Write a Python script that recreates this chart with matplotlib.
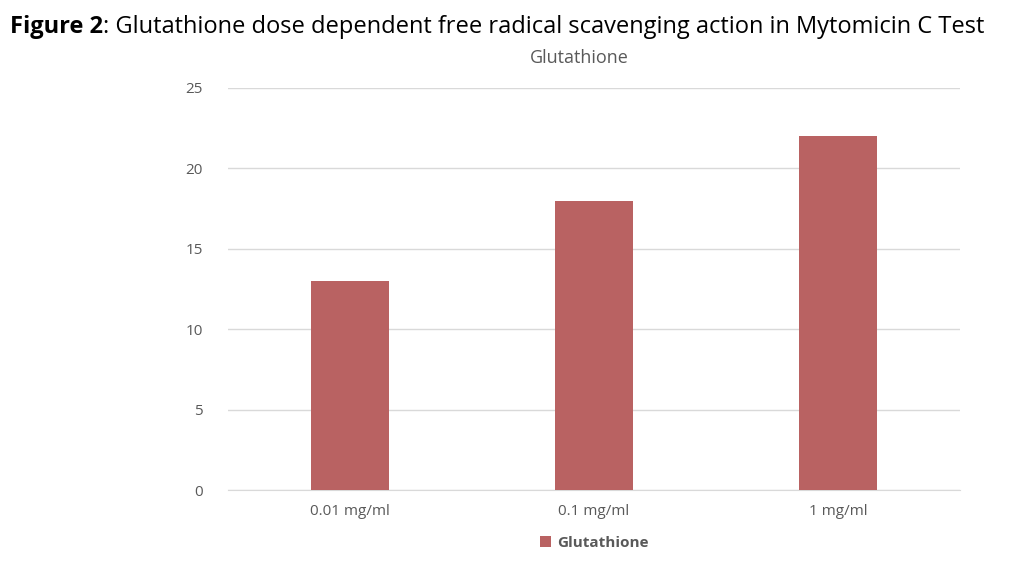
import matplotlib
matplotlib.use("Agg")
import matplotlib.pyplot as plt

categories = ["0.01 mg/ml", "0.1 mg/ml", "1 mg/ml"]
values = [13, 18, 22]
yticks = [0, 5, 10, 15, 20, 25]

bar_color = "#B96262"
grey = "#595959"

plt.rcParams['font.family'] = ['Open Sans', 'DejaVu Sans']

fig = plt.figure(figsize=(10.24, 5.67), dpi=100)
ax = fig.add_axes([0.2227, 0.1358, 0.715, 0.709])

x = list(range(len(categories)))
ax.bar(x, values, width=0.32, color=bar_color, label="Glutathione", zorder=3)
ax.set_xlim(-0.5, 2.5)
ax.set_ylim(0, 25)
ax.set_yticks(yticks)
ax.set_xticks(x)
ax.set_xticklabels(categories)
ax.grid(axis='y', color="#d9d9d9", linewidth=1, zorder=0)
for s in ['top', 'right', 'left']:
    ax.spines[s].set_visible(False)
ax.spines['bottom'].set_color("#d9d9d9")
ax.tick_params(axis='both', length=0, colors=grey, labelsize=11)
ax.tick_params(axis='y', pad=18)
ax.tick_params(axis='x', pad=10)

ax.set_title("Glutathione", fontsize=13, color=grey, pad=18, x=0.48)

leg = ax.legend(loc='upper center', bbox_to_anchor=(0.5, -0.08), frameon=False,
                handlelength=0.7, handleheight=0.7, handletextpad=0.4,
                prop={'weight': 'bold', 'size': 11})
for t in leg.get_texts():
    t.set_color(grey)

t1 = fig.text(0.01, 0.953, "Figure 2", fontsize=17, fontweight='bold', color='black',
              va='center', ha='left')
ax.annotate(": Glutathione dose dependent free radical scavenging action in Mytomicin C Test",
            xy=(1, 0), xycoords=t1, va='bottom', ha='left', fontsize=17, color='black',
            annotation_clip=False)

fig.savefig("out.png", dpi=100)
